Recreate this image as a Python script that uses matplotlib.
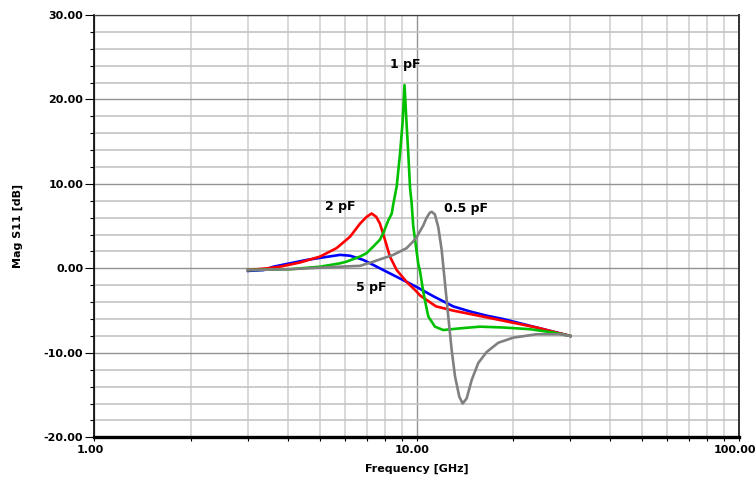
import matplotlib
matplotlib.use("Agg")
import matplotlib.pyplot as plt
import matplotlib.transforms as mtransforms
from matplotlib.ticker import MultipleLocator, LogLocator, FixedLocator, NullFormatter, FuncFormatter

# ---- data ----
f_5pF = [3.0, 3.35, 3.6, 4.05, 4.56, 5.14, 5.79, 6.22, 6.84, 7.35, 8.08, 8.89, 10.01, 11.28, 13.0, 14.66, 16.51, 18.6, 20.95, 23.6, 26.6, 30.0]
s_5pF = [-0.3, -0.2, 0.2, 0.6, 1.0, 1.3, 1.6, 1.5, 1.0, 0.4, -0.4, -1.2, -2.2, -3.3, -4.5, -5.1, -5.6, -6.0, -6.5, -7.0, -7.5, -8.0]

f_2pF = [3.0, 3.43, 3.77, 4.35, 5.02, 5.65, 6.22, 6.68, 7.0, 7.26, 7.5, 7.7, 7.98, 8.27, 8.68, 9.32, 10.01, 10.25, 11.5, 13.0, 14.66, 16.51, 18.6, 20.95, 23.6, 26.6, 28.6, 30.0]
s_2pF = [-0.2, 0.0, 0.2, 0.7, 1.4, 2.4, 3.75, 5.3, 6.1, 6.5, 6.1, 5.3, 3.4, 1.4, -0.2, -1.6, -2.75, -3.2, -4.5, -5.0, -5.4, -5.8, -6.2, -6.6, -7.0, -7.5, -7.8, -8.0]

f_1pF = [3.0, 4.05, 5.02, 5.79, 6.07, 6.68, 7.0, 7.35, 7.7, 7.89, 8.18, 8.38, 8.47, 8.68, 8.89, 9.05, 9.18, 9.3, 9.43, 9.55, 9.66, 9.77, 9.89, 10.13, 10.25, 10.5, 10.65, 10.88, 11.41, 12.11, 13.65, 15.74, 18.6, 22.5, 26.6, 30.0]
s_1pF = [-0.2, -0.1, 0.2, 0.6, 0.8, 1.4, 1.8, 2.6, 3.4, 4.2, 5.7, 6.5, 7.6, 9.7, 13.6, 17.2, 21.7, 17.6, 13.6, 9.5, 7.7, 5.0, 3.5, 0.5, -0.3, -2.8, -4.0, -5.7, -6.9, -7.3, -7.1, -6.9, -7.0, -7.2, -7.6, -8.0]

f_05pF = [3.0, 4.05, 5.79, 6.68, 7.35, 8.47, 9.32, 9.77, 10.01, 10.25, 10.5, 10.75, 11.0, 11.15, 11.4, 11.68, 11.97, 12.26, 12.55, 12.86, 13.17, 13.58, 13.91, 14.31, 14.84, 15.55, 16.51, 17.95, 19.97, 23.6, 27.9, 30.0]
s_05pF = [-0.2, -0.1, 0.2, 0.3, 0.8, 1.6, 2.4, 3.2, 3.7, 4.4, 5.1, 6.0, 6.6, 6.7, 6.4, 4.9, 2.2, -1.8, -5.7, -9.7, -12.8, -15.2, -16.0, -15.4, -13.2, -11.2, -9.9, -8.8, -8.2, -7.8, -7.8, -8.0]

labels = ["5 pF", "2 pF", "1 pF", "0.5 pF"]
label_pos = [(7.25, -2.25), (5.81, 7.33), (9.24, 24.1), (14.2, 7.09)]

x_ticks = [1, 10, 100]
y_ticks = [-20, -10, 0, 10, 20, 30]

plt.rcParams['font.family'] = ['DejaVu Sans']

fig = plt.figure(figsize=(7.55, 4.78), dpi=100)
ax = fig.add_axes([94.3/755, 1-437.3/478, (738.7-94.3)/755, (437.3-15)/478])

ax.set_xscale('log')
ax.set_xlim(1, 100)
ax.set_ylim(-20, 30)

ax.xaxis.set_major_locator(FixedLocator(x_ticks))
ax.xaxis.set_minor_locator(LogLocator(base=10, subs=range(2, 10)))
ax.xaxis.set_minor_formatter(NullFormatter())
ax.xaxis.set_major_formatter(FuncFormatter(lambda v, p: f"{v:.2f}"))
ax.yaxis.set_major_locator(FixedLocator(y_ticks))
ax.yaxis.set_minor_locator(MultipleLocator(2))
ax.yaxis.set_major_formatter(FuncFormatter(lambda v, p: f"{v:.2f}"))

ax.grid(which='minor', axis='x', color='#d6d6d6', linewidth=1.3)
ax.grid(which='minor', axis='y', color='#c4c4c4', linewidth=1.2)
ax.grid(which='major', axis='both', color='#939393', linewidth=1.0)
ax.set_axisbelow(True)

ax.tick_params(axis='y', which='major', length=6.5, width=0.8, pad=1.5, labelsize=8, colors='black')
ax.tick_params(axis='y', which='minor', length=3, width=0.8)
ax.tick_params(axis='x', which='both', length=3, width=0.8, pad=2.5, labelsize=8, colors='black')
shift = mtransforms.ScaledTranslation(-4/100, 0, fig.dpi_scale_trans)
for lab in ax.get_xticklabels():
    lab.set_fontweight('bold')
    lab.set_transform(lab.get_transform() + shift)
for lab in ax.get_yticklabels():
    lab.set_fontweight('bold')

ax.spines['bottom'].set_linewidth(2.4)
ax.spines['bottom'].set_color('black')
ax.spines['left'].set_linewidth(1.2)
ax.spines['left'].set_color('black')
ax.spines['top'].set_linewidth(0.9)
ax.spines['top'].set_color('#404040')
ax.spines['right'].set_linewidth(1.4)
ax.spines['right'].set_color('#303030')

lw = 1.9
ax.plot(f_5pF, s_5pF, color='#0000ff', lw=lw, zorder=3)
ax.plot(f_2pF, s_2pF, color='#ff0000', lw=lw, zorder=3)
ax.plot(f_1pF, s_1pF, color='#00c000', lw=lw, zorder=3)
ax.plot(f_05pF, s_05pF, color='#808080', lw=lw, zorder=3)

for t, (x, y) in zip(labels, label_pos):
    ax.text(x, y, t, ha='center', va='center', fontsize=9, fontweight='bold', color='black', zorder=4)

ax.set_xlabel('Frequency [GHz]', fontsize=8, fontweight='bold', labelpad=6.5)
ax.set_ylabel('Mag S11 [dB]', fontsize=8, fontweight='bold', labelpad=15)

fig.savefig('out.png', dpi=100)
